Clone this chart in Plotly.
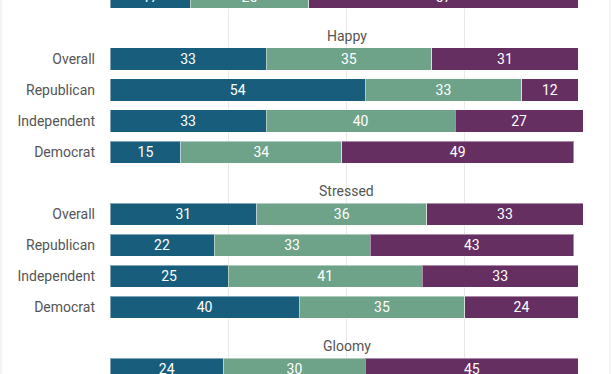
import plotly.graph_objects as go

# ---- data ----
groups = ["", "Happy", "Stressed", "Gloomy"]
rows = ["Overall", "Republican", "Independent", "Democrat"]

# (group index, row label, values for the three response segments)
group_idx = [0, 1, 1, 1, 1, 2, 2, 2, 2, 3]
row_labels = ["Democrat",
              "Overall", "Republican", "Independent", "Democrat",
              "Overall", "Republican", "Independent", "Democrat",
              "Overall"]
seg1 = [17, 33, 54, 33, 15, 31, 22, 25, 40, 24]
seg2 = [25, 35, 33, 40, 34, 36, 33, 41, 35, 30]
seg3 = [57, 31, 12, 27, 49, 33, 43, 33, 24, 45]
series_names = ["First", "Second", "Third"]
colors = ["#185e7c", "#6ea389", "#652f62"]

# ---- positions (5 slots per group: title + 4 rows) ----
ypos = [5 * g + 1 + rows.index(r) for g, r in zip(group_idx, row_labels)]

fig = go.Figure()
for name, vals, col in zip(series_names, [seg1, seg2, seg3], colors):
    fig.add_trace(go.Bar(
        name=name, x=vals, y=ypos, orientation="h", width=0.71,
        marker=dict(color=col, line=dict(color="rgba(255,255,255,0.45)", width=1)),
        text=vals, texttemplate="%{x}", textposition="inside",
        insidetextanchor="middle", textangle=0, constraintext="none",
        textfont=dict(color="white", size=14, family="Roboto"),
        hoverinfo="skip",
    ))

annotations = []
for g, name in enumerate(groups):
    if name:
        annotations.append(dict(
            x=50, y=5 * g + 0.27, xref="x", yref="y", text=name,
            showarrow=False, font=dict(size=14, color="#555", family="Roboto"),
            xanchor="center", yanchor="middle"))

slot_px = 31.0
top_pos = 6 - 59 / slot_px
bottom_pos = top_pos + 374 / slot_px

fig.update_layout(
    barmode="stack", showlegend=False,
    width=612, height=374,
    margin=dict(l=110, r=29, t=0, b=0),
    paper_bgcolor="white", plot_bgcolor="white",
    font=dict(family="Roboto", size=14, color="#555"),
    annotations=annotations,
    xaxis=dict(range=[0, 100], tickvals=[0, 25, 50, 75, 100], showticklabels=False,
               showgrid=True, gridcolor="#e8e8e8", gridwidth=1, zeroline=False,
               ticks="", fixedrange=True),
    yaxis=dict(range=[bottom_pos, top_pos], tickmode="array", tickvals=ypos,
               ticktext=row_labels, showgrid=False, zeroline=False, ticks="",
               ticklabelstandoff=14, tickfont=dict(size=14, color="#555", family="Roboto")),
    shapes=[
        dict(type="line", xref="paper", yref="paper", x0=(1 - 110) / 473, x1=(1 - 110) / 473,
             y0=-0.1, y1=1.1, line=dict(color="#e6e6e6", width=1)),
        dict(type="line", xref="paper", yref="paper", x0=(610 - 110) / 473, x1=(610 - 110) / 473,
             y0=-0.1, y1=1.1, line=dict(color="#ececec", width=1)),
    ],
)

fig.write_html(
    "out.html",
    config={"displayModeBar": False, "staticPlot": True},
    post_script="document.body.style.margin='0';document.body.style.overflow='hidden';",
)
